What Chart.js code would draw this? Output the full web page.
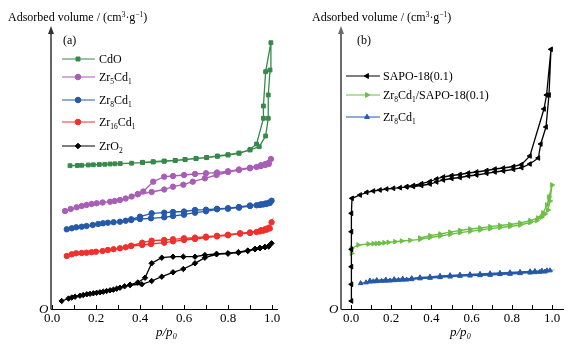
<!DOCTYPE html>
<html>
<head>
<meta charset="utf-8">
<script src="https://cdn.jsdelivr.net/npm/chart.js@4.4.0/dist/chart.umd.min.js"></script>
<style>
    body { margin: 0; background: #fff; }
    #wrap { position: relative; width: 587px; height: 346px; font-family: "Liberation Serif", "Times New Roman", serif; color: #000; }
    .panel { position: absolute; top: 0; }
    .lbl { position: absolute; white-space: nowrap; font-size: 12px; line-height: 12px; }
    .lbl sub { font-size: 0.62em; vertical-align: -0.35em; line-height: 0; }
    .lbl sup { font-size: 0.62em; vertical-align: 0.55em; line-height: 0; }
    .it { font-style: italic; }
</style>
</head>
<body>
<div id="wrap">
    <canvas id="chartA" class="panel" width="290" height="346" style="left:0"></canvas>
    <canvas id="chartB" class="panel" width="297" height="346" style="left:290px"></canvas>

    <div class="lbl" style="left:8px;top:11px">Adsorbed volume / (cm<sup>3</sup>·g<sup>−1</sup>)</div>
    <div class="lbl" style="left:312px;top:11px">Adsorbed volume / (cm<sup>3</sup>·g<sup>−1</sup>)</div>
    <div class="lbl" style="left:63px;top:34px">(a)</div>
    <div class="lbl" style="left:357px;top:34px">(b)</div>

    <div class="lbl" style="left:99px;top:53px">CdO</div>
    <div class="lbl" style="left:99px;top:71px">Zr<sub>5</sub>Cd<sub>1</sub></div>
    <div class="lbl" style="left:99px;top:94px">Zr<sub>8</sub>Cd<sub>1</sub></div>
    <div class="lbl" style="left:99px;top:116px">Zr<sub>16</sub>Cd<sub>1</sub></div>
    <div class="lbl" style="left:99px;top:140px">ZrO<sub>2</sub></div>

    <div class="lbl" style="left:383px;top:70px">SAPO-18(0.1)</div>
    <div class="lbl" style="left:383px;top:89px">Zr<sub>8</sub>Cd<sub>1</sub>/SAPO-18(0.1)</div>
    <div class="lbl" style="left:383px;top:111px">Zr<sub>8</sub>Cd<sub>1</sub></div>

    <div class="lbl it" style="left:39px;top:303px;font-size:13px">O</div>
    <div class="lbl it" style="left:329px;top:303px;font-size:13px">O</div>
    <div class="lbl it" style="left:156px;top:326px;font-size:13px">p/p<sub>0</sub></div>
    <div class="lbl it" style="left:450px;top:326px;font-size:13px">p/p<sub>0</sub></div>
</div>

<script>
// tick positions on the p/p0 axis
const majorTicks = [0, 0.2, 0.4, 0.6, 0.8, 1.0];
const minorTicks = [0, 0.1, 0.2, 0.3, 0.4, 0.5, 0.6, 0.7, 0.8, 0.9, 1.0];

// panel (a): [p/p0, adsorbed volume] (arbitrary units)
const cdoAds = [[0.082,143.3],[0.115,143.5],[0.135,143.7],[0.165,144],[0.188,144.2],[0.215,144.5],[0.24,144.7],[0.264,145],[0.286,145.2],[0.31,145.4],[0.362,145.8],[0.412,146.4],[0.46,147],[0.51,147.7],[0.56,148.4],[0.605,149.3],[0.655,150.3],[0.703,151.3],[0.752,152.7],[0.80,154],[0.85,155.7],[0.90,159],[0.942,162.3],[0.971,173],[0.983,190.7],[0.983,214],[0.991,239],[0.995,266.3]];
const cdoDes = [[0.971,237.3],[0.961,203],[0.961,190.7],[0.93,165],[0.90,159.5],[0.85,156],[0.80,154.3],[0.752,153],[0.703,151.6],[0.655,150.6],[0.605,149.6],[0.56,148.7],[0.51,148],[0.46,147.3],[0.412,146.7]];

const zr5Ads = [[0.059,98],[0.085,100],[0.112,101.7],[0.135,103],[0.157,104],[0.18,105],[0.203,105.7],[0.23,106.5],[0.264,107.3],[0.285,108],[0.309,109],[0.335,110.5],[0.362,112.5],[0.39,114.7],[0.453,117],[0.51,119.5],[0.55,122.3],[0.597,124.3],[0.64,127.3],[0.695,130.7],[0.748,134],[0.80,137],[0.85,139],[0.90,140.7],[0.93,142],[0.95,143],[0.97,144],[0.985,145],[0.995,150]];
const zr5Des = [[0.985,146.3],[0.97,145],[0.95,143.8],[0.90,141.3],[0.85,139.5],[0.80,137.7],[0.75,136.5],[0.70,135.7],[0.65,135],[0.60,134],[0.55,133],[0.51,132.3],[0.46,127.3],[0.415,117.5],[0.39,115]];

const zr8Ads = [[0.067,79.7],[0.09,80.7],[0.11,81.7],[0.135,82.3],[0.157,83],[0.185,84],[0.21,85],[0.232,85.7],[0.254,86.3],[0.28,86.8],[0.309,87.3],[0.335,88.3],[0.36,89],[0.40,90],[0.45,90.7],[0.51,91.7],[0.55,93],[0.60,94.3],[0.65,96.3],[0.70,97.7],[0.75,99.7],[0.80,100.3],[0.85,101.3],[0.90,103],[0.93,103.7],[0.945,104],[0.96,104.5],[0.975,105],[0.99,106],[0.998,108.3]];
const zr8Des = [[0.985,106.3],[0.97,105.5],[0.95,104.7],[0.90,103.5],[0.85,102],[0.80,100.8],[0.75,100.2],[0.70,99.3],[0.65,99],[0.60,97.5],[0.55,97],[0.51,96.3],[0.453,95.7],[0.40,92.3],[0.36,89.7]];

const zr16Ads = [[0.067,53],[0.09,54.7],[0.11,55.7],[0.135,56],[0.157,56.3],[0.18,56.8],[0.20,57.3],[0.23,58],[0.254,59],[0.28,59.8],[0.309,60.7],[0.335,61.7],[0.36,63],[0.41,64],[0.45,65],[0.51,66.3],[0.55,67.7],[0.60,69],[0.65,70],[0.70,71.5],[0.75,72.6],[0.80,73.7],[0.855,75.3],[0.90,76],[0.93,77],[0.945,77.6],[0.96,78.3],[0.975,79.3],[0.99,80.5],[0.998,86.7]];
const zr16Des = [[0.985,81.3],[0.97,80],[0.95,78.8],[0.90,76.6],[0.855,75.8],[0.80,74.3],[0.75,73.2],[0.70,72.4],[0.65,71.4],[0.60,70.7],[0.55,69.7],[0.51,69],[0.453,68.3],[0.41,66.3],[0.36,63.3]];

const zro2Ads = [[0.044,8],[0.075,10.5],[0.09,11.5],[0.105,12.3],[0.127,13.3],[0.142,14],[0.158,14.7],[0.173,15.2],[0.188,15.7],[0.203,16.2],[0.218,16.7],[0.233,17.3],[0.248,18],[0.264,18.7],[0.279,19.3],[0.294,20.3],[0.309,21.3],[0.33,22.7],[0.355,24],[0.408,24.7],[0.453,28],[0.499,32.3],[0.55,36.7],[0.597,40],[0.65,45.7],[0.695,51.3],[0.748,54.7],[0.80,55.3],[0.847,56.3],[0.89,58],[0.923,59.7],[0.945,60.7],[0.968,61.7],[0.985,62.5],[0.998,65.7]];
const zro2Des = [[0.985,63],[0.968,62.2],[0.945,61.2],[0.923,60.2],[0.89,58.5],[0.847,56.8],[0.80,55.8],[0.748,55.2],[0.695,54],[0.65,52.3],[0.597,52.3],[0.55,52.3],[0.499,51.3],[0.453,45.7],[0.423,31.3],[0.39,26.5],[0.355,24.3]];

// panel (b)
const sapoAds = [[0.002,8],[0.002,24.7],[0.002,42.3],[0.002,59.7],[0.002,77.3],[0.002,95.7],[0.005,110.7],[0.045,114],[0.078,116.7],[0.111,118],[0.144,119],[0.177,120],[0.211,120.7],[0.244,121.3],[0.277,122],[0.31,122.5],[0.351,123.5],[0.393,125],[0.426,127],[0.459,129],[0.501,130.5],[0.542,131.5],[0.584,133],[0.625,134],[0.675,135.7],[0.716,137],[0.758,138],[0.808,139.7],[0.849,141.3],[0.89,145],[0.932,151],[0.944,165],[0.97,182],[0.985,214],[0.995,259.7]];
const sapoDes = [[0.973,214],[0.96,200],[0.89,153],[0.849,144.5],[0.808,142.5],[0.758,141],[0.716,140],[0.675,138.5],[0.625,137],[0.584,136],[0.542,134.5],[0.501,133.5],[0.459,132],[0.426,130],[0.393,127.5],[0.351,125.3],[0.31,123.5],[0.277,122.5]];

const zrSapoAds = [[0.003,55.7],[0.003,60.7],[0.036,64],[0.086,65],[0.111,65.3],[0.128,65.5],[0.144,65.7],[0.165,66.2],[0.186,66.7],[0.219,67.3],[0.252,68],[0.294,68.7],[0.343,69.7],[0.393,71.5],[0.443,73],[0.493,74.7],[0.542,76.3],[0.592,77.7],[0.642,79],[0.692,80.3],[0.741,81.5],[0.791,82.5],[0.841,84],[0.891,86.5],[0.924,88.5],[0.949,92],[0.965,95],[0.98,99],[0.99,108],[1.0,124]];
const zrSapoDes = [[0.985,112],[0.975,104],[0.955,96],[0.93,91],[0.891,88.3],[0.841,86],[0.791,84.5],[0.741,83.5],[0.692,82.3],[0.642,81],[0.592,80],[0.542,78.5],[0.493,76.8],[0.443,75],[0.393,73.3],[0.343,71]];

const zr8bAds = [[0.048,25.7],[0.075,26.5],[0.094,27.3],[0.111,27.5],[0.128,27.7],[0.152,28],[0.173,28.2],[0.194,28.3],[0.215,28.7],[0.236,29],[0.257,29.2],[0.277,29.3],[0.302,29.7],[0.343,30.5],[0.393,31],[0.443,31.7],[0.493,32.3],[0.542,33],[0.592,33.3],[0.642,33.7],[0.692,34],[0.741,34.7],[0.791,35],[0.841,35.7],[0.891,36.3],[0.915,36.7],[0.94,37],[0.965,37.3],[0.99,38.5]];
const zr8bDes = [[0.975,38.5],[0.95,38.2],[0.915,37.8],[0.891,37.5],[0.841,37],[0.791,36.5],[0.741,36],[0.692,35.5],[0.642,35],[0.592,34.6],[0.542,34.2],[0.493,33.7],[0.443,33],[0.393,32.2],[0.343,31.5],[0.302,30.7],[0.257,30.2],[0.215,29.7],[0.173,29.3],[0.128,28.8],[0.094,28.3]];

function toPoints(ads, des) {
    return ads.concat(des).map(([x, y]) => ({ x, y }));
}

function makeSeries(label, ads, des, color, style, rot) {
    return {
        label: label,
        data: toPoints(ads, des),
        borderColor: color,
        backgroundColor: color,
        pointStyle: style,
        pointRotation: rot || 0,
        pointRadius: 2.7,
        pointBorderWidth: 1,
        borderWidth: 1.3,
        showLine: true,
        tension: 0,
        clip: false
    };
}

// inward ticks, arrowed y axis and the legend sample marks
const axesPlugin = {
    id: 'axesDeco',
    afterDraw(chart, args, opts) {
        const ctx = chart.ctx;
        const area = chart.chartArea;
        const xs = chart.scales.x;
        ctx.save();

        ctx.strokeStyle = '#000';
        ctx.lineWidth = 1;
        minorTicks.forEach(v => {
            const x = Math.round(xs.getPixelForValue(v)) + 0.5;
            ctx.beginPath();
            ctx.moveTo(x, area.bottom);
            ctx.lineTo(x, area.bottom - 4);
            ctx.stroke();
        });

        const ax = area.left;
        ctx.strokeStyle = opts.axisColor;
        ctx.fillStyle = opts.axisColor;
        ctx.lineWidth = opts.axisWidth;
        ctx.beginPath();
        ctx.moveTo(ax, area.bottom + 0.5);
        ctx.lineTo(ax, area.top + 4);
        ctx.stroke();
        ctx.beginPath();
        ctx.moveTo(ax, area.top - 2);
        ctx.lineTo(ax - 3, area.top + 6);
        ctx.lineTo(ax + 3, area.top + 6);
        ctx.closePath();
        ctx.fill();

        chart.data.datasets.forEach((ds, i) => {
            const y = opts.legendY[i];
            ctx.strokeStyle = ds.borderColor;
            ctx.fillStyle = ds.backgroundColor;
            ctx.lineWidth = 1.2;
            ctx.beginPath();
            ctx.moveTo(opts.legendX1, y);
            ctx.lineTo(opts.legendX2, y);
            ctx.stroke();
            ctx.lineWidth = 1;
            Chart.helpers.drawPoint(ctx, {
                pointStyle: ds.pointStyle,
                rotation: ds.pointRotation,
                radius: 2.8,
                borderWidth: 1
            }, opts.legendMark, y);
        });

        ctx.restore();
    }
};

function makeChart(id, datasets, xMin, xMax, padRight, deco) {
    return new Chart(document.getElementById(id), {
        type: 'scatter',
        data: { datasets: datasets },
        options: {
            responsive: false,
            animation: false,
            devicePixelRatio: 1,
            layout: { padding: { left: 51, right: padRight, top: 28, bottom: 17 } },
            plugins: {
                legend: { display: false },
                tooltip: { enabled: false },
                axesDeco: deco
            },
            scales: {
                x: {
                    type: 'linear',
                    min: xMin,
                    max: xMax,
                    afterBuildTicks: s => { s.ticks = majorTicks.map(v => ({ value: v })); },
                    afterFit: s => { s.height = 20; },
                    grid: { display: false, drawTicks: false, tickLength: 0 },
                    border: { display: true, color: '#000', width: 1 },
                    ticks: {
                        color: '#000',
                        padding: 2,
                        maxRotation: 0,
                        font: { family: 'Liberation Serif', size: 13 },
                        callback: v => v.toFixed(1)
                    }
                },
                y: { display: false, min: 0, max: 281 }
            }
        },
        plugins: [axesPlugin]
    });
}

makeChart('chartA', [
    makeSeries('CdO', cdoAds, cdoDes, '#36894a', 'rect'),
    makeSeries('Zr5Cd1', zr5Ads, zr5Des, '#a85db6', 'circle'),
    makeSeries('Zr8Cd1', zr8Ads, zr8Des, '#2659aa', 'circle'),
    makeSeries('Zr16Cd1', zr16Ads, zr16Des, '#f0302c', 'circle'),
    makeSeries('ZrO2', zro2Ads, zro2Des, '#000000', 'rectRot')
], -1 / 220, 225 / 220, 13, {
    axisColor: '#333',
    axisWidth: 1.5,
    legendX1: 62, legendX2: 95, legendMark: 78,
    legendY: [59, 77, 100, 122, 146]
});

makeChart('chartB', [
    makeSeries('SAPO-18(0.1)', sapoAds, sapoDes, '#000000', 'triangle', -90),
    makeSeries('Zr8Cd1/SAPO-18(0.1)', zrSapoAds, zrSapoDes, '#6cbf45', 'triangle', 90),
    makeSeries('Zr8Cd1', zr8bAds, zr8bDes, '#2659aa', 'triangle')
], -10 / 201, 212 / 201, 24, {
    axisColor: '#6b6b6b',
    axisWidth: 2,
    legendX1: 56, legendX2: 90, legendMark: 77,
    legendY: [76, 95, 117]
});
</script>
</body>
</html>
